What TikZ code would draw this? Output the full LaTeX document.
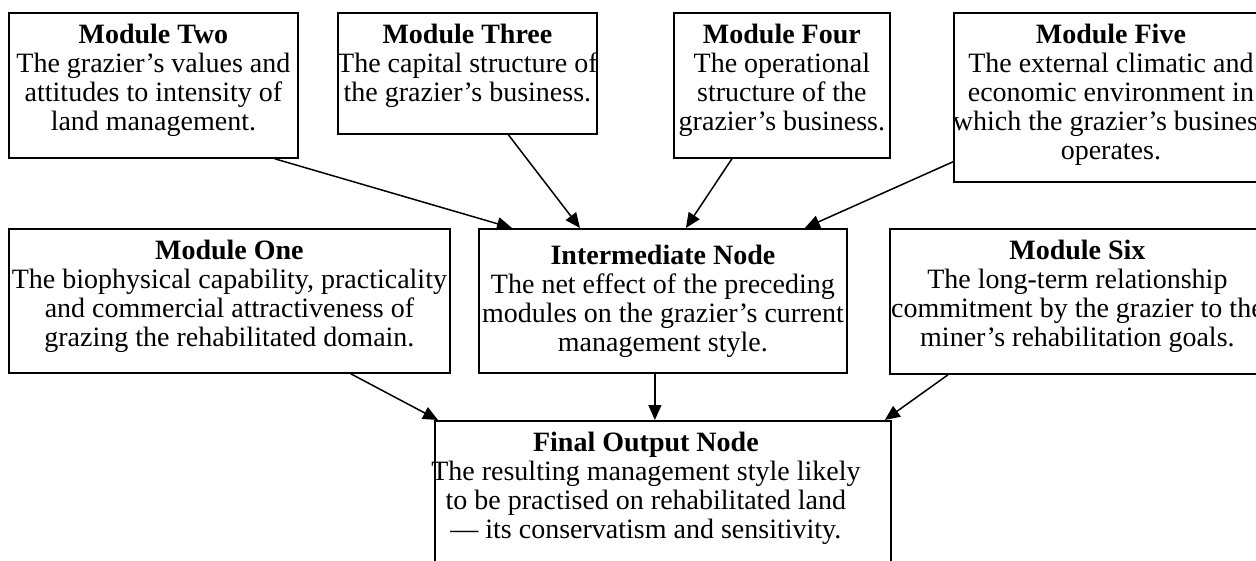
\documentclass[tikz,border=0pt]{standalone}
\usepackage{fontspec}
\setmainfont{Liberation Serif}
\usepackage{tikz}
\usetikzlibrary{arrows.meta, positioning, calc}
\tikzset{
  modbox/.style={
    draw, line width=1.8pt, rectangle, fill=white, inner sep=0pt,
    anchor=north west
  },
  modtext/.style={
    align=center, inner sep=0pt,
    font=\fontsize{28}{29}\selectfont
  },
  modarrow/.style={
    -{Triangle[length=15pt, width=13pt]}, line width=1.5pt
  },
}

\begin{document}
\begin{tikzpicture}[x=1pt, y=-1pt, node distance=12pt]
  \useasboundingbox (0,0) rectangle (1256,561);

  % upper row
  \node[modbox, minimum width=289, minimum height=145] (two) at (8,12) {};
  \node[modtext, below=of two.north] (two-txt)
    {\textbf{Module Two}\\The grazier’s values and\\attitudes to intensity of\\land management.};

  \node[modbox, minimum width=259, minimum height=121] (three) at (337,12) {};
  \node[modtext, below=of three.north] (three-txt)
    {\textbf{Module Three}\\The capital structure of\\the grazier’s business.};

  \node[modbox, minimum width=216, minimum height=145] (four) at (673,12) {};
  \node[modtext, below=of four.north] (four-txt)
    {\textbf{Module Four}\\The operational\\structure of the\\grazier’s business.};

  \node[modbox, minimum width=314, minimum height=169] (five) at (953,12) {};
  \node[modtext, below=of five.north] (five-txt)
    {\textbf{Module Five}\\The external climatic and\\economic environment in\\which the grazier’s business\\operates.};

  % middle row
  \node[modbox, minimum width=441, minimum height=144] (one) at (8,228) {};
  \node[modtext, below=of one.north] (one-txt)
    {\textbf{Module One}\\The biophysical capability, practicality\\and commercial attractiveness of\\grazing the rehabilitated domain.};

  \node[modbox, minimum width=368, minimum height=144] (inter) at (478,228) {};
  \node[modtext, below=17pt of inter.north] (inter-txt)
    {\textbf{Intermediate Node}\\The net effect of the preceding\\modules on the grazier’s current\\management style.};

  \node[modbox, minimum width=375, minimum height=145] (six) at (889,228) {};
  \node[modtext, below=of six.north] (six-txt)
    {\textbf{Module Six}\\The long-term relationship\\commitment by the grazier to the\\miner’s rehabilitation goals.};

  % output
  \node[modbox, minimum width=456, minimum height=170] (final) at (434,420) {};
  \node[modtext, below=of final.north, xshift=-17pt] (final-txt)
    {\textbf{Final Output Node}\\The resulting management style likely\\to be practised on rehabilitated land\\— its conservatism and sensitivity.};

  \draw[modarrow] ([xshift=-24]two.south east) -- ([xshift=34]inter.north west);
  \draw[modarrow] ([xshift=41]three.south) -- ([xshift=102]inter.north west);
  \draw[modarrow] ([xshift=-50]four.south) -- ([xshift=23]inter.north);
  \draw[modarrow] ([yshift=21]five.south west) -- ([xshift=-43]inter.north east);

  \draw[modarrow] ([xshift=-100]one.south east) -- ([xshift=4]final.north west);
  \draw[modarrow] ([xshift=-8]inter.south) -- ([xshift=-8]inter.south |- final.north);
  \draw[modarrow] ([xshift=59]six.south west) -- ([xshift=-7]final.north east);
\end{tikzpicture}
\end{document}
